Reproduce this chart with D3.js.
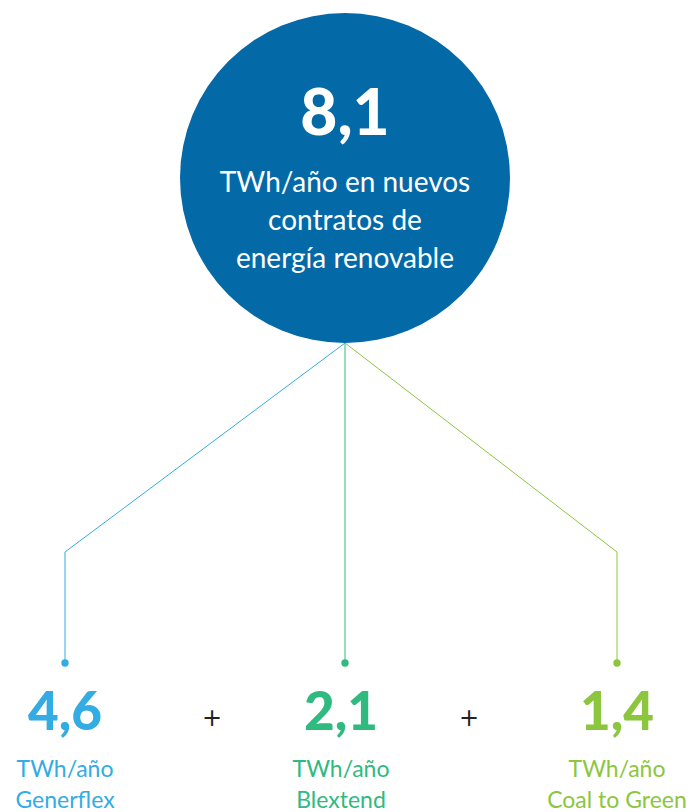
<!DOCTYPE html>
<html lang="es">

<head>
    <meta charset="UTF-8">
    <script src="https://cdnjs.cloudflare.com/ajax/libs/d3/7.8.5/d3.min.js"></script>
    <title>Energía renovable</title>
    <style>
        body { margin: 0; background: #fff; }
        svg { display: block; font-family: Lato, "Open Sans", sans-serif; }
    </style>
</head>

<body>
    <div id="content"></div>
<script>
    // total
    const totalValue = '8,1'
    const totalLabel = ['TWh/año en nuevos', 'contratos de', 'energía renovable']
    // parts
    const parts = ['Generflex', 'Blextend', 'Coal to Green']
    const partValues = ['4,6', '2,1', '1,4']
    const partUnit = 'TWh/año'
    const partColors = ['#33ace3', '#2fba80', '#8cc63e']

    const width = 692
    const height = 812
    const hub = { x: 345, y: 178, r: 165 }
    const elbowY = 552
    const dotY = 663

    const xScale = d3.scaleOrdinal().domain(parts).range([65, 345, 617])
    const colorScale = d3.scaleOrdinal().domain(parts).range(partColors)

    const svg = d3.select('#content')
        .append('svg')
        .attr('width', width)
        .attr('height', height)

    //Connector lines
    const line = d3.line()
    svg.selectAll('path.link')
        .data(parts)
        .enter()
        .append('path')
        .attr('class', 'link')
        .attr('d', p => line([[hub.x, hub.y + hub.r], [xScale(p), elbowY], [xScale(p), dotY]]))
        .attr('fill', 'none')
        .attr('stroke', p => colorScale(p))
        .attr('stroke-width', 1)
    svg.selectAll('circle.dot')
        .data(parts)
        .enter()
        .append('circle')
        .attr('class', 'dot')
        .attr('cx', p => xScale(p))
        .attr('cy', dotY)
        .attr('r', 3.7)
        .attr('fill', p => colorScale(p))

    //Big circle
    svg.append('circle')
        .attr('cx', hub.x)
        .attr('cy', hub.y)
        .attr('r', hub.r)
        .attr('fill', '#0469a7')
    svg.append('text')
        .attr('x', hub.x)
        .attr('y', 135)
        .attr('text-anchor', 'middle')
        .attr('fill', '#fff')
        .style('font-size', '64px')
        .style('font-weight', 900)
        .text(totalValue)
    svg.selectAll('text.sub')
        .data(totalLabel)
        .enter()
        .append('text')
        .attr('class', 'sub')
        .attr('x', hub.x)
        .attr('y', (d, i) => 192 + i * 38)
        .attr('text-anchor', 'middle')
        .attr('fill', '#fff')
        .style('font-size', '28px')
        .text(d => d)

    //Part labels
    const g = svg.selectAll('g.part')
        .data(parts)
        .enter()
        .append('g')
        .attr('class', 'part')
        .attr('transform', p => `translate(${xScale(p) + (p === 'Blextend' ? -4 : 0)},0)`)
        .attr('fill', p => colorScale(p))
        .attr('text-anchor', 'middle')
    g.append('text')
        .attr('y', 730)
        .style('font-size', '53px')
        .style('font-weight', 900)
        .text((p, i) => partValues[i])
    g.append('text')
        .attr('y', 777)
        .style('font-size', '23px')
        .text(partUnit)
    g.append('text')
        .attr('y', 808)
        .style('font-size', '23px')
        .text(p => p)

    //Plus signs
    svg.selectAll('text.plus')
        .data([212, 469])
        .enter()
        .append('text')
        .attr('class', 'plus')
        .attr('x', d => d)
        .attr('y', 726)
        .attr('text-anchor', 'middle')
        .attr('fill', '#222')
        .style('font-family', '"DejaVu Sans", sans-serif')
        .style('font-size', '24px')
        .text('+')
</script>
</body>

</html>
